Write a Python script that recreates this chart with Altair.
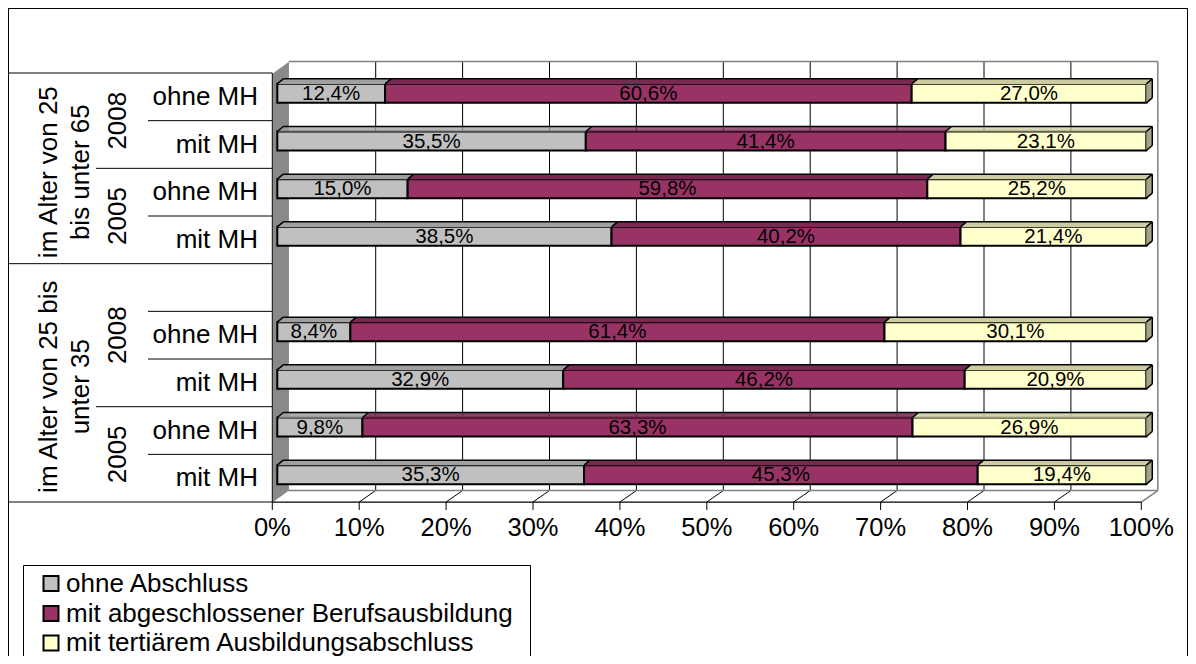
import altair as alt
import pandas as pd

# ---------------- data ----------------
SERIES = ["ohne Abschluss", "mit abgeschlossener Berufsausbildung", "mit tertiärem Ausbildungsabschluss"]
AGE_GROUPS = ["im Alter von 25\nbis unter 65", "im Alter von 25 bis\nunter 35"]
# category rows from top to bottom ("" = empty spacer row of the second age group)
ROW_AGE = [0, 0, 0, 0, 1, 1, 1, 1, 1]
ROW_YEAR = ["2008", "2008", "2005", "2005", "2008", "2008", "2008", "2005", "2005"]
ROW_MH = ["ohne MH", "mit MH", "ohne MH", "mit MH", "", "ohne MH", "mit MH", "ohne MH", "mit MH"]
OHNE_ABSCHLUSS = [12.4, 35.5, 15.0, 38.5, None, 8.4, 32.9, 9.8, 35.3]
BERUFSAUSBILDUNG = [60.6, 41.4, 59.8, 40.2, None, 61.4, 46.2, 63.3, 45.3]
TERTIAER = [27.0, 23.1, 25.2, 21.4, None, 30.1, 20.9, 26.9, 19.4]
TICKS = [0, 10, 20, 30, 40, 50, 60, 70, 80, 90, 100]
TICK_LABELS = ["0%", "10%", "20%", "30%", "40%", "50%", "60%", "70%", "80%", "90%", "100%"]

# ---------------- style / layout ----------------
FRONT = ["#C0C0C0", "#993366", "#FFFFCC"]
TOP = ["#A0A0A0", "#7A2952", "#CCCCA0"]
SIDE = ["#8C8C8C", "#662244", "#99997A"]
GRAY = "#808080"
FONT = "Liberation Sans"

W, H = 1180, 648
M = 8
X0, PXU = 272.3, 8.69       # page x of 0 %, pixels per percent
R0, RH = 73.0, 47.67        # page y of first category row, row height
NROWS = len(ROW_MH)
FLOOR_Y = R0 + RH * NROWS
BAR_DX, BAR_DY, BAR_HALF = 5.0, -3.5, 9.5
DEPTH_X, DEPTH_Y = 6.0, -5.0
WALL_X, WALL_Y = 16.5, -11.5


def fx(px):
    return (px - X0) / PXU


def fy(py):
    return (py - R0) / RH


XS = alt.Scale(domain=[fx(M), fx(M + W)], nice=False, zero=False)
YS = alt.Scale(domain=[fy(M), fy(M + H)], nice=False, zero=False, reverse=True)


def qx(f, **kw):
    return alt.X(f"{f}:Q", scale=XS, axis=None, **kw)


def qy(f, **kw):
    return alt.Y(f"{f}:Q", scale=YS, axis=None, **kw)


def fmt(v):
    return f"{v:.1f}".replace(".", ",") + "%"


wall_fills, fills, lines, bar_lines = [], [], [], []


def add(lst, x, x2, y, y2, c="black", w=1.0):
    lst.append(dict(x=x, x2=x2, y=y, y2=y2, c=c, w=w))


# ---------------- bars ----------------
front_rows = []
ddx = DEPTH_X / PXU
for r in range(NROWS):
    vals = [OHNE_ABSCHLUSS[r], BERUFSAUSBILDUNG[r], TERTIAER[r]]
    if vals[0] is None:
        continue
    tot = sum(vals)
    cy = R0 + RH * (r + 0.5) + BAR_DY
    yt, yb = cy - BAR_HALF, cy + BAR_HALF
    cum = 0.0
    for k, v in enumerate(vals):
        xs = cum / tot * 100 + BAR_DX / PXU
        xe = (cum + v) / tot * 100 + BAR_DX / PXU
        cum += v
        front_rows.append(dict(x=xs, x2=xe, y=fy(yt), y2=fy(yb), fill=FRONT[k],
                               xm=(xs + xe) / 2, ym=fy(cy + 0.5), label=fmt(v)))
        # top face (parallelogram built from 1px strokes)
        n = int(abs(DEPTH_Y))
        for j in range(n):
            f = (j + 0.5) / n
            add(fills, xs + ddx * f, xe + ddx * f, fy(yt + DEPTH_Y * f), fy(yt + DEPTH_Y * f), TOP[k], 1.2)
        add(bar_lines, xs, xs + ddx, fy(yt), fy(yt + DEPTH_Y), "black", 1.5)
        add(bar_lines, xs + ddx, xe + ddx, fy(yt + DEPTH_Y), fy(yt + DEPTH_Y), "black", 1.5)
        if k == len(vals) - 1:
            n2 = int(DEPTH_X)
            for j in range(n2):
                f = (j + 0.5) / n2
                add(fills, xe + ddx * f, xe + ddx * f, fy(yt + DEPTH_Y * f), fy(yb + DEPTH_Y * f), SIDE[k], 1.2)
            add(bar_lines, xe, xe + ddx, fy(yt), fy(yt + DEPTH_Y), "black", 1.5)
            add(bar_lines, xe, xe + ddx, fy(yb), fy(yb + DEPTH_Y), "black", 1.5)
            add(bar_lines, xe + ddx, xe + ddx, fy(yt + DEPTH_Y), fy(yb + DEPTH_Y), "black", 1.5)

df_front = pd.DataFrame(front_rows)

# ---------------- walls / lines ----------------
wx = WALL_X / PXU
nw = int(WALL_X)
for j in range(nw):
    f = (j + 0.5) / nw
    add(wall_fills, fx(X0 + 0.5 + (WALL_X - 0.5) * f), fx(X0 + 0.5 + (WALL_X - 0.5) * f),
        fy(R0 + 0.5 + WALL_Y * f), fy(FLOOR_Y + WALL_Y * f), GRAY, 1.2)

# outer frame
add(lines, fx(M + 0.5), fx(M + 0.5), fy(M), fy(M + H))
add(lines, fx(M), fx(M + W), fy(M + 0.5), fy(M + 0.5))
add(lines, fx(M + W - 0.5), fx(M + W - 0.5), fy(M), fy(M + H))
# category label box
for k in range(NROWS + 1):
    if k == 0 or k == NROWS or ROW_AGE[k] != ROW_AGE[k - 1]:
        sx = M
    elif ROW_YEAR[k] != ROW_YEAR[k - 1]:
        sx = 96
    else:
        sx = 148
    add(lines, fx(sx), fx(X0), fy(R0 + RH * k), fy(R0 + RH * k))
add(lines, fx(X0), fx(X0), fy(R0), fy(FLOOR_Y))
# back wall gridlines and floor
for t in TICKS[1:-1]:
    add(lines, t + wx, t + wx, fy(R0 + WALL_Y), fy(FLOOR_Y + WALL_Y))
    add(lines, t, t + wx, fy(FLOOR_Y), fy(FLOOR_Y + WALL_Y))
add(lines, wx, 100 + wx, fy(R0 + WALL_Y), fy(R0 + WALL_Y), GRAY, 1.5)
add(lines, 100 + wx, 100 + wx, fy(R0 + WALL_Y), fy(FLOOR_Y + WALL_Y), GRAY, 1.5)
add(lines, wx, 100 + wx, fy(FLOOR_Y + WALL_Y), fy(FLOOR_Y + WALL_Y), GRAY, 1.5)
add(lines, 100, 100 + wx, fy(FLOOR_Y), fy(FLOOR_Y + WALL_Y), GRAY, 1.5)
add(lines, 0, 100, fy(FLOOR_Y), fy(FLOOR_Y), "black", 1.2)
# ticks
for t in TICKS:
    add(lines, t, t, fy(FLOOR_Y), fy(FLOOR_Y + 8))
# legend box
LEG_L, LEG_T, LEG_R = 23.5, 565.5, 530.5
add(lines, fx(LEG_L), fx(LEG_L), fy(LEG_T), fy(M + H))
add(lines, fx(LEG_L), fx(LEG_R), fy(LEG_T), fy(LEG_T))
add(lines, fx(LEG_R), fx(LEG_R), fy(LEG_T), fy(M + H))

df_wall = pd.DataFrame(wall_fills)
df_fills = pd.DataFrame(fills)
df_lines = pd.DataFrame(lines)
df_bar_lines = pd.DataFrame(bar_lines)

# ---------------- labels ----------------
df_mh = pd.DataFrame([dict(x=fx(258), y=r + 0.5, t=ROW_MH[r]) for r in range(NROWS) if ROW_MH[r]])


def runs(keys):
    out = []
    start = 0
    for i in range(1, len(keys) + 1):
        if i == len(keys) or keys[i] != keys[start]:
            out.append((keys[start], (start + i) / 2))
            start = i
    return out


df_year = pd.DataFrame([dict(x=fx(118), y=c, t=k[1])
                        for k, c in runs(list(zip(ROW_AGE, ROW_YEAR)))])
df_age = pd.DataFrame([dict(x=fx(49), y=c + 0.08, t=AGE_GROUPS[k]) for k, c in runs(ROW_AGE)])
df_ticks = pd.DataFrame(dict(x=TICKS, y=[fy(528)] * len(TICKS), t=TICK_LABELS))

LEG_Y = [583.5, 613.5, 643.0]
df_leg_box = pd.DataFrame([dict(x=fx(43.5), x2=fx(58.5), y=fy(cy - 7.5), y2=fy(cy + 7.5), fill=FRONT[i])
                           for i, cy in enumerate(LEG_Y)])
df_leg_txt = pd.DataFrame([dict(x=fx(66), y=fy(cy), t=SERIES[i]) for i, cy in enumerate(LEG_Y)])


# ---------------- layers ----------------
def rule_layer(df):
    return alt.Chart(df).mark_rule().encode(
        x=qx("x"), x2="x2", y=qy("y"), y2="y2",
        color=alt.Color("c:N", scale=None), strokeWidth=alt.StrokeWidth("w:Q", scale=None))


fronts = alt.Chart(df_front).mark_rect(stroke="black", strokeWidth=2).encode(
    x=qx("x"), x2="x2", y=qy("y"), y2="y2", fill=alt.Fill("fill:N", scale=None))
bar_text = alt.Chart(df_front).mark_text(font=FONT, fontSize=20.5, color="black",
                                         baseline="middle", align="center").encode(
    x=qx("xm"), y=qy("ym"), text="label:N")
mh_text = alt.Chart(df_mh).mark_text(font=FONT, fontSize=26, align="right", baseline="middle").encode(
    x=qx("x"), y=qy("y"), text="t:N")
year_text = alt.Chart(df_year).mark_text(font=FONT, fontSize=26, angle=270, align="center",
                                         baseline="middle").encode(
    x=qx("x"), y=qy("y"), text="t:N")
age_text = alt.Chart(df_age).mark_text(font=FONT, fontSize=26, angle=270, align="center",
                                       baseline="middle", lineBreak="\n", lineHeight=32).encode(
    x=qx("x"), y=qy("y"), text="t:N")
tick_text = alt.Chart(df_ticks).mark_text(font=FONT, fontSize=25.5, align="center",
                                          baseline="middle").encode(
    x=qx("x"), y=qy("y"), text="t:N")
leg_box = alt.Chart(df_leg_box).mark_rect(stroke="black", strokeWidth=2).encode(
    x=qx("x"), x2="x2", y=qy("y"), y2="y2", fill=alt.Fill("fill:N", scale=None))
leg_text = alt.Chart(df_leg_txt).mark_text(font=FONT, fontSize=26, align="left", baseline="middle").encode(
    x=qx("x"), y=qy("y"), text="t:N")

chart = alt.layer(
    rule_layer(df_wall), rule_layer(df_lines), fronts, rule_layer(df_fills),
    rule_layer(df_bar_lines), bar_text,
    mh_text, year_text, age_text, tick_text, leg_box, leg_text
).properties(
    width=W, height=H, padding=0, background="white",
    autosize=alt.AutoSizeParams(type="none"),
).configure_view(stroke=None)

chart.save("out.html", embed_options={"renderer": "svg", "actions": False})
